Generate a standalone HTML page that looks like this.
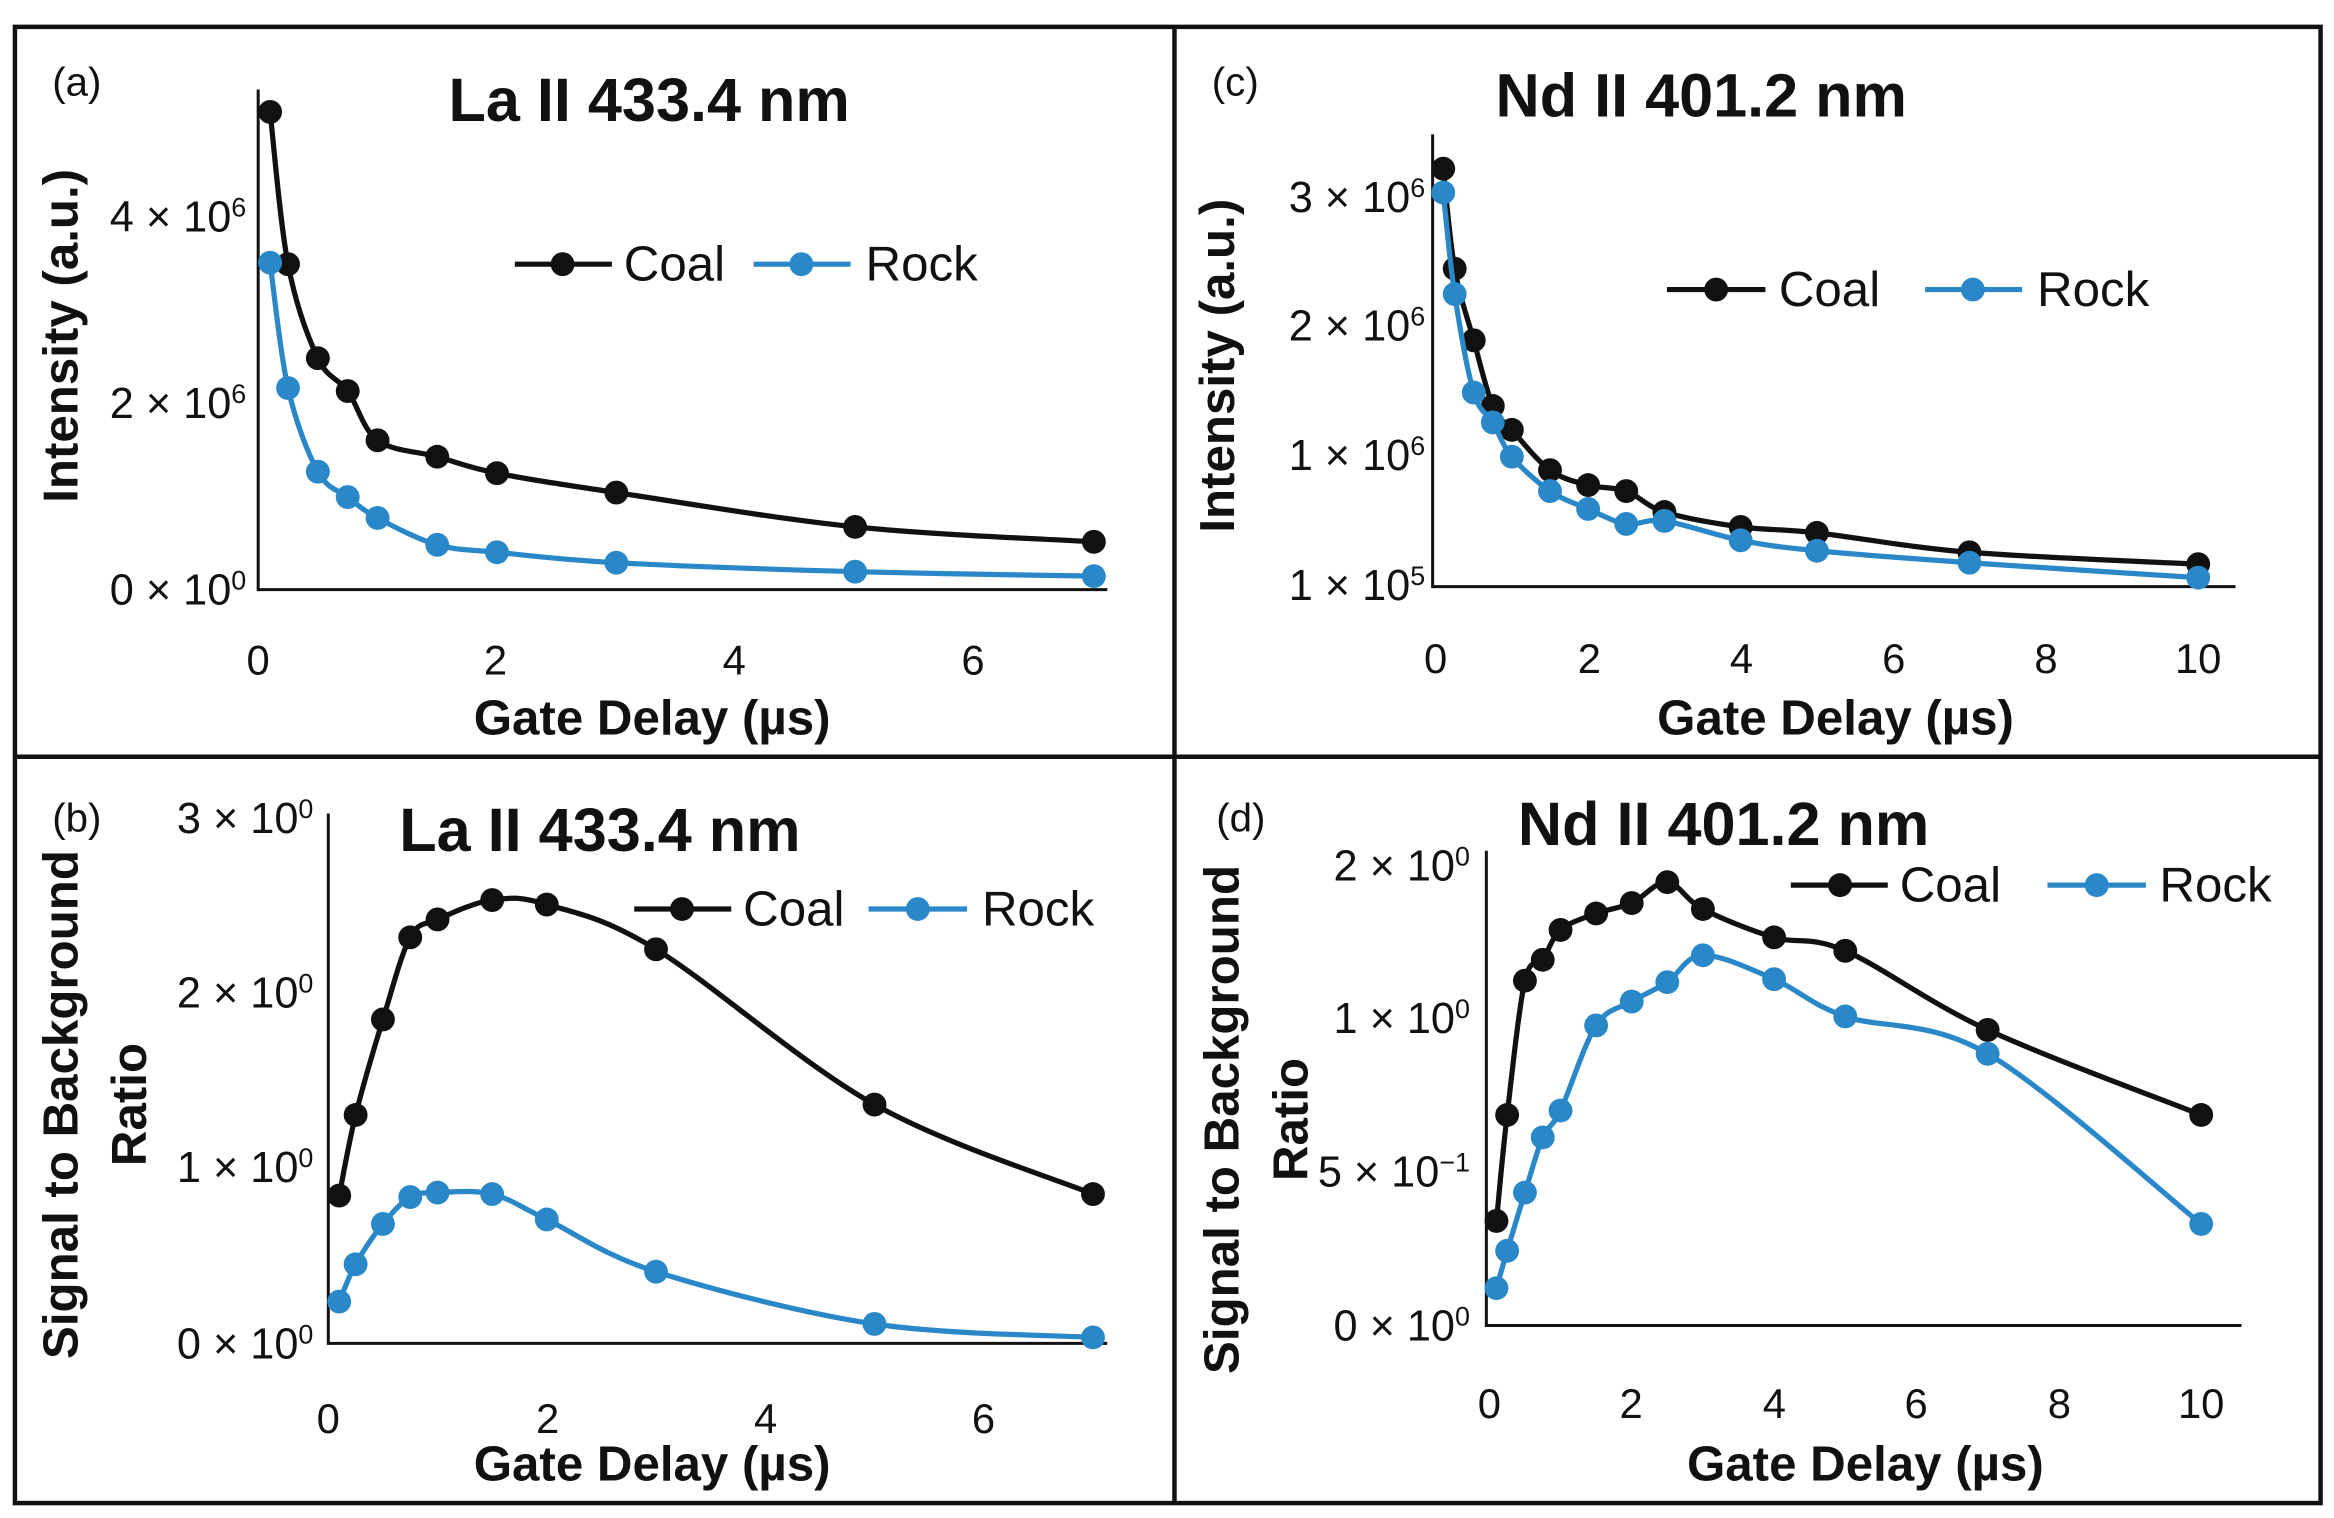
<!DOCTYPE html>
<html><head><meta charset="utf-8">
<style>
html,body{margin:0;padding:0;background:#fff;}
svg{display:block;}
text{font-family:"Liberation Sans",sans-serif;fill:#111;}
.tk{font-size:28px;}
.yl{font-size:29px;font-family:"Liberation Serif",serif;}
.tt{font-size:41px;font-weight:bold;}
.ax{font-size:33px;font-weight:bold;}
.lg{font-size:33px;}
.pl{font-size:27px;}
</style></head><body>
<svg id="s" width="2334" height="1518" viewBox="0 0 1564 1017" preserveAspectRatio="none" xmlns="http://www.w3.org/2000/svg">
<rect x="0" y="0" width="1564" height="1017" fill="#fff"/>
<rect x="10" y="18" width="1545" height="989" fill="none" stroke="#111" stroke-width="3"/>
<line x1="787" y1="18" x2="787" y2="1007" stroke="#111" stroke-width="3"/>
<line x1="10" y1="507" x2="1555" y2="507" stroke="#111" stroke-width="3"/>

<!-- panel a -->
<text x="35" y="64" class="pl">(a)</text>
<text x="435" y="81" class="tt" text-anchor="middle">La II 433.4 nm</text>
<line x1="173" y1="60" x2="173" y2="396" stroke="#111" stroke-width="2"/>
<line x1="173" y1="395" x2="742" y2="395" stroke="#111" stroke-width="2"/>
<g class="yl" text-anchor="end"><text x="165" y="155">4 × 10<tspan dy="-10" font-size="18">6</tspan></text><text x="165" y="280">2 × 10<tspan dy="-10" font-size="18">6</tspan></text><text x="165" y="405">0 × 10<tspan dy="-10" font-size="18">0</tspan></text></g>
<g class="tk" text-anchor="middle"><text x="173" y="452">0</text><text x="332" y="452">2</text><text x="492" y="452">4</text><text x="652" y="452">6</text></g>
<text x="437" y="492" class="ax" text-anchor="middle">Gate Delay (µs)</text>
<text transform="translate(52,225) rotate(-90)" class="ax" text-anchor="middle">Intensity (a.u.)</text>

<!-- panel c -->
<text x="812" y="64" class="pl">(c)</text>
<text x="1140" y="78" class="tt" text-anchor="middle">Nd II 401.2 nm</text>
<line x1="960" y1="90" x2="960" y2="394" stroke="#111" stroke-width="2"/>
<line x1="960" y1="393" x2="1498" y2="393" stroke="#111" stroke-width="2"/>
<g class="yl" text-anchor="end"><text x="955" y="142">3 × 10<tspan dy="-10" font-size="18">6</tspan></text><text x="955" y="228">2 × 10<tspan dy="-10" font-size="18">6</tspan></text><text x="955" y="315">1 × 10<tspan dy="-10" font-size="18">6</tspan></text><text x="955" y="402">1 × 10<tspan dy="-10" font-size="18">5</tspan></text></g>
<g class="tk" text-anchor="middle"><text x="962" y="451">0</text><text x="1065" y="451">2</text><text x="1167" y="451">4</text><text x="1269" y="451">6</text><text x="1371" y="451">8</text><text x="1473" y="451">10</text></g>
<text x="1230" y="492" class="ax" text-anchor="middle">Gate Delay (µs)</text>
<text transform="translate(827,245) rotate(-90)" class="ax" text-anchor="middle">Intensity (a.u.)</text>

<!-- panel b -->
<text x="35" y="557" class="pl">(b)</text>
<text x="402" y="570" class="tt" text-anchor="middle">La II 433.4 nm</text>
<line x1="220" y1="545" x2="220" y2="901" stroke="#111" stroke-width="2"/>
<line x1="220" y1="900" x2="742" y2="900" stroke="#111" stroke-width="2"/>
<g class="yl" text-anchor="end"><text x="210" y="558">3 × 10<tspan dy="-10" font-size="18">0</tspan></text><text x="210" y="675">2 × 10<tspan dy="-10" font-size="18">0</tspan></text><text x="210" y="792">1 × 10<tspan dy="-10" font-size="18">0</tspan></text><text x="210" y="910">0 × 10<tspan dy="-10" font-size="18">0</tspan></text></g>
<g class="tk" text-anchor="middle"><text x="220" y="960">0</text><text x="367" y="960">2</text><text x="513" y="960">4</text><text x="659" y="960">6</text></g>
<text x="437" y="992" class="ax" text-anchor="middle">Gate Delay (µs)</text>
<text transform="translate(52,740) rotate(-90)" class="ax" text-anchor="middle">Signal to Background</text>
<text transform="translate(98,740) rotate(-90)" class="ax" text-anchor="middle">Ratio</text>

<!-- panel d -->
<text x="815" y="557" class="pl">(d)</text>
<text x="1155" y="566" class="tt" text-anchor="middle">Nd II 401.2 nm</text>
<line x1="996" y1="570" x2="996" y2="889" stroke="#111" stroke-width="2"/>
<line x1="996" y1="888" x2="1502" y2="888" stroke="#111" stroke-width="2"/>
<g class="yl" text-anchor="end"><text x="985" y="590">2 × 10<tspan dy="-10" font-size="18">0</tspan></text><text x="985" y="692">1 × 10<tspan dy="-10" font-size="18">0</tspan></text><text x="985" y="795">5 × 10<tspan dy="-10" font-size="18">−1</tspan></text><text x="985" y="898">0 × 10<tspan dy="-10" font-size="18">0</tspan></text></g>
<g class="tk" text-anchor="middle"><text x="998" y="950">0</text><text x="1093" y="950">2</text><text x="1189" y="950">4</text><text x="1284" y="950">6</text><text x="1380" y="950">8</text><text x="1475" y="950">10</text></g>
<text x="1250" y="992" class="ax" text-anchor="middle">Gate Delay (µs)</text>
<text transform="translate(830,750) rotate(-90)" class="ax" text-anchor="middle">Signal to Background</text>
<text transform="translate(876,750) rotate(-90)" class="ax" text-anchor="middle">Ratio</text>

<g id="series"></g>
<!-- legends -->
<g class="lg">
<line x1="345" y1="177" x2="410" y2="177" stroke="#111" stroke-width="3.5"/><circle cx="377" cy="177" r="8" fill="#111"/><text x="418" y="188">Coal</text>
<line x1="505" y1="177" x2="570" y2="177" stroke="#2a88c8" stroke-width="3.5"/><circle cx="537" cy="177" r="8" fill="#2a88c8"/><text x="580" y="188">Rock</text>
<line x1="1117" y1="194" x2="1183" y2="194" stroke="#111" stroke-width="3.5"/><circle cx="1150" cy="194" r="8" fill="#111"/><text x="1192" y="205">Coal</text>
<line x1="1290" y1="194" x2="1355" y2="194" stroke="#2a88c8" stroke-width="3.5"/><circle cx="1322" cy="194" r="8" fill="#2a88c8"/><text x="1365" y="205">Rock</text>
<line x1="425" y1="609" x2="490" y2="609" stroke="#111" stroke-width="3.5"/><circle cx="457" cy="609" r="8" fill="#111"/><text x="498" y="620">Coal</text>
<line x1="582" y1="609" x2="648" y2="609" stroke="#2a88c8" stroke-width="3.5"/><circle cx="615" cy="609" r="8" fill="#2a88c8"/><text x="658" y="620">Rock</text>
<line x1="1200" y1="593" x2="1265" y2="593" stroke="#111" stroke-width="3.5"/><circle cx="1233" cy="593" r="8" fill="#111"/><text x="1273" y="604">Coal</text>
<line x1="1372" y1="593" x2="1438" y2="593" stroke="#2a88c8" stroke-width="3.5"/><circle cx="1405" cy="593" r="8" fill="#2a88c8"/><text x="1447" y="604">Rock</text>
</g>
</svg>
<script>
var NS="http://www.w3.org/2000/svg",G=document.getElementById("series");
function ser(x0,sc,xs,ys,col){
  var p=xs.map(function(x,i){return [x0+sc*x,ys[i]];});
  var d="M"+p[0][0]+","+p[0][1];
  for(var i=0;i<p.length-1;i++){
    var a=p[i-1]||p[i],b=p[i],c=p[i+1],e=p[i+2]||c,t=6;
    d+=" C"+(b[0]+(c[0]-a[0])/t)+","+(b[1]+(c[1]-a[1])/t)+" "+(c[0]-(e[0]-b[0])/t)+","+(c[1]-(e[1]-b[1])/t)+" "+c[0]+","+c[1];
  }
  var pa=document.createElementNS(NS,"path");pa.setAttribute("d",d);pa.setAttribute("fill","none");pa.setAttribute("stroke",col);pa.setAttribute("stroke-width","3.5");G.appendChild(pa);
  p.forEach(function(q){var c=document.createElementNS(NS,"circle");c.setAttribute("cx",q[0]);c.setAttribute("cy",q[1]);c.setAttribute("r","8");c.setAttribute("fill",col);G.appendChild(c);});
}
var K="#111",B="#2a88c8";
var xa=[0.1,0.25,0.5,0.75,1,1.5,2,3,5,7];
ser(173,80,xa,[75,177,240,262,295,306,317,330,353,363],K);
ser(173,80,xa,[176,260,316,333,347,365,370,377,383,386],B);
var xc=[0.1,0.25,0.5,0.75,1,1.5,2,2.5,3,4,5,7,10];
ser(962,51.1,xc,[113,180,228,272,288,315,325,329,343,353,357,370,378],K);
ser(962,51.1,xc,[129,197,263,283,306,329,341,351,349,362,369,377,387],B);
ser(220,73.2,xa,[801,747,683,628,616,603,606,636,740,800],K);
ser(220,73.2,xa,[872,847,820,802,799,800,817,852,887,896],B);
ser(998,47.7,xc,[818,747,657,643,623,612,605,591,609,628,637,690,747],K);
ser(998,47.7,xc,[863,838,799,762,744,687,671,658,640,656,681,706,820],B);
</script>
</body></html>
